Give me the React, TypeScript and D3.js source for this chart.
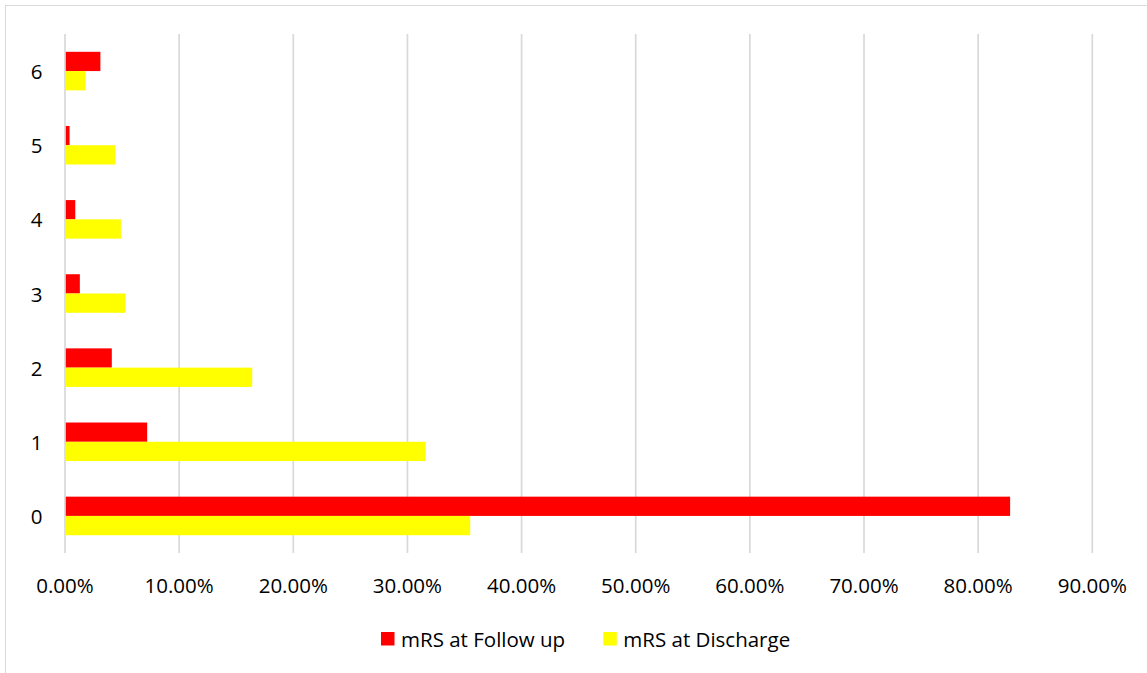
import * as d3 from 'd3';

const categories = ['0', '1', '2', '3', '4', '5', '6'];
const seriesNames = ['mRS at Follow up', 'mRS at Discharge'];
const followUp = [0.828, 0.072, 0.041, 0.013, 0.009, 0.004, 0.031];
const discharge = [0.355, 0.316, 0.164, 0.053, 0.049, 0.044, 0.018];
const xTicks = [0, 0.1, 0.2, 0.3, 0.4, 0.5, 0.6, 0.7, 0.8, 0.9];
const colors = ['#ff0000', '#ffff00'];

const W = 1147;
const H = 673;
const FONT = '"Open Sans", sans-serif';

export default function App() {
  const x = d3.scaleLinear().domain([0, 0.9]).range([65, 1092.3]);
  // top-to-bottom order is 6..0
  const y = d3
    .scaleBand<string>()
    .domain([...categories].reverse())
    .range([34, 553])
    .paddingInner(0.48)
    .paddingOuter(0.24);
  const sub = d3.scaleBand<string>().domain(seriesNames).range([0, y.bandwidth()]);
  const fmt = d3.format('.2%');
  const values = [followUp, discharge];

  return (
    <div style={{ position: 'absolute', left: 0, top: 0 }}>
      <svg width={W} height={H} style={{ display: 'block', background: '#fff' }}>
        <rect x={5.5} y={5.5} width={1150} height={700} fill="none" stroke="#d9d9d9" strokeWidth={1} />

        {/* Gridlines */}
        {xTicks.map((t) => (
          <line key={t} x1={x(t)} x2={x(t)} y1={34} y2={553} stroke="#d9d9d9" strokeWidth={1.7} />
        ))}

        {/* Bars */}
        {seriesNames.map((s, si) =>
          categories.map((c, ci) => (
            <rect
              key={s + c}
              x={x(0) + 0.8}
              y={(y(c) as number) + (sub(s) as number)}
              width={Math.max(0, x(values[si][ci]) - x(0) - 0.8)}
              height={sub.bandwidth()}
              fill={colors[si]}
            />
          ))
        )}

        {/* Category labels */}
        {categories.map((c) => (
          <text
            key={c}
            x={36.5}
            y={(y(c) as number) + y.bandwidth() / 2}
            textAnchor="middle"
            dominantBaseline="central"
            fontFamily={FONT}
            fontSize={20.5}
            fill="#000"
          >
            {c}
          </text>
        ))}

        {/* X tick labels */}
        {xTicks.map((t) => (
          <text
            key={t}
            x={x(t)}
            y={585}
            textAnchor="middle"
            dominantBaseline="central"
            fontFamily={FONT}
            fontSize={20.5}
            fill="#000"
          >
            {fmt(t)}
          </text>
        ))}

        {/* Legend */}
        {[381, 603.3].map((lx, i) => (
          <g key={i}>
            <rect x={lx} y={632} width={13.5} height={13.5} fill={colors[i]} />
            <text
              x={lx + 20}
              y={639}
              dominantBaseline="central"
              fontFamily={FONT}
              fontSize={20.5}
              fill="#000"
            >
              {seriesNames[i]}
            </text>
          </g>
        ))}
      </svg>
    </div>
  );
}
